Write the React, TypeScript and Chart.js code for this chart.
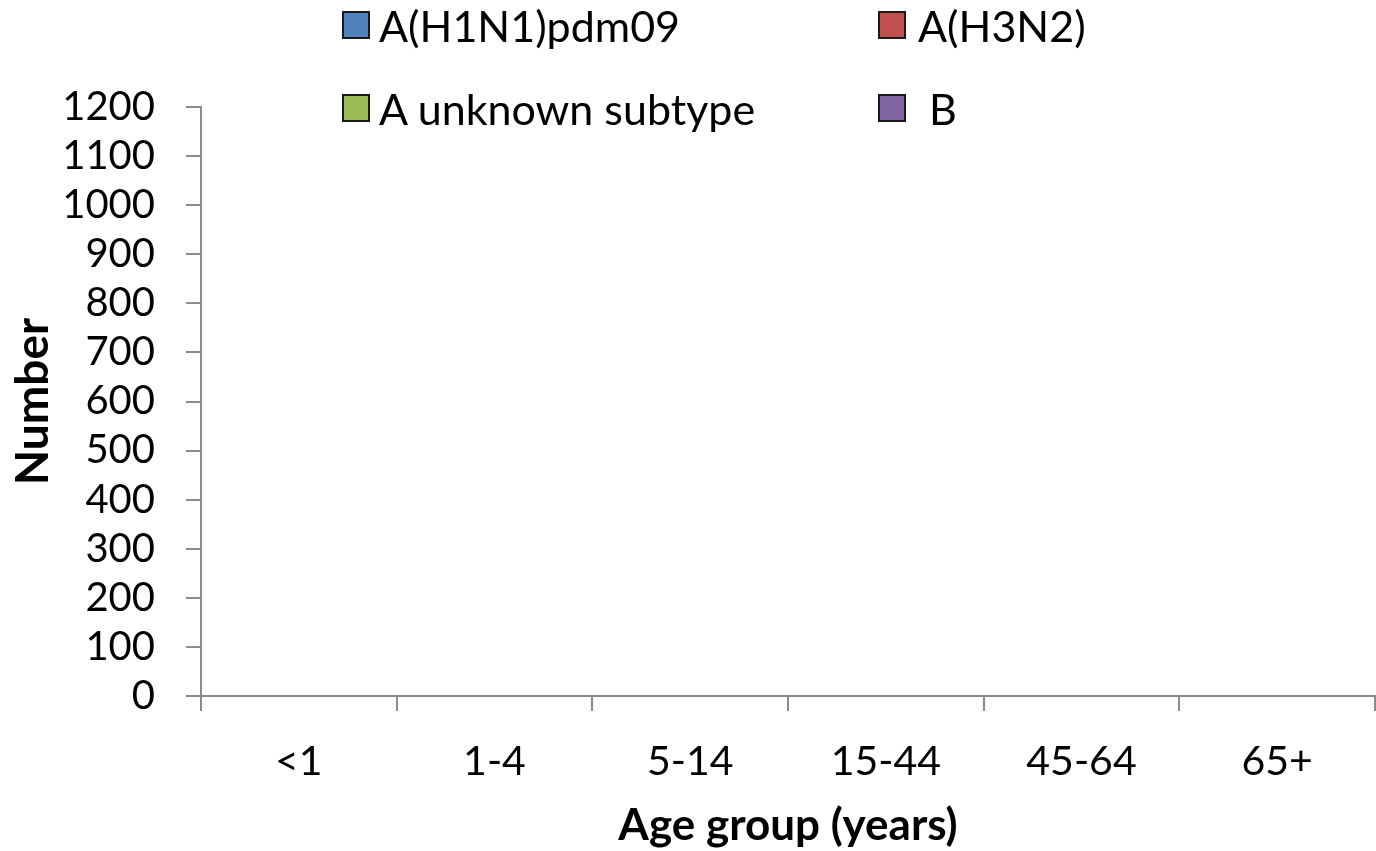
import React, { useEffect, useRef } from "react";
import { Chart, registerables } from "chart.js";

Chart.register(...registerables);

const categories = ["<1", "1-4", "5-14", "15-44", "45-64", "65+"];
const seriesNames = ["A(H1N1)pdm09", "A(H3N2)", "A unknown subtype", " B"];
const seriesColors = ["#4F81BD", "#C0504D", "#9BBB59", "#8064A2"];
const h1n1Values = [0, 0, 0, 0, 0, 0];
const h3n2Values = [0, 0, 0, 0, 0, 0];
const aUnknownValues = [0, 0, 0, 0, 0, 0];
const bValues = [0, 0, 0, 0, 0, 0];
const yTickLabels = ["0", "100", "200", "300", "400", "500", "600", "700", "800", "900", "1000", "1100", "1200"];

const FONT = "Lato, 'Open Sans', sans-serif";
const AXIS_GRAY = "#8c8c8c";

// legend positions (2 x 2 grid)
const legendLayout = [
  { left: 342, top: 0, textGap: 9 },
  { left: 878, top: 0, textGap: 12 },
  { left: 342, top: 83, textGap: 9 },
  { left: 878, top: 83, textGap: 12 },
];

export default function App() {
  const canvasRef = useRef<HTMLCanvasElement | null>(null);

  useEffect(() => {
    if (!canvasRef.current) return;
    const allValues = [h1n1Values, h3n2Values, aUnknownValues, bValues];
    const chart = new Chart(canvasRef.current, {
      type: "bar",
      data: {
        labels: categories,
        datasets: seriesNames.map((name, i) => ({
          label: name,
          data: allValues[i],
          backgroundColor: seriesColors[i],
          borderWidth: 0,
        })),
      },
      options: {
        animation: false,
        responsive: true,
        maintainAspectRatio: false,
        layout: { padding: { top: 107, right: 1, left: 0, bottom: 0 } },
        plugins: {
          legend: { display: false },
          tooltip: { enabled: false },
        },
        scales: {
          x: {
            offset: true,
            grid: {
              display: true,
              offset: true,
              drawOnChartArea: false,
              drawTicks: true,
              tickLength: 15,
              color: AXIS_GRAY,
              lineWidth: 2,
            },
            border: { display: true, color: AXIS_GRAY, width: 2 },
            ticks: {
              color: "#000",
              font: { family: FONT, size: 41 },
              padding: 26,
              maxRotation: 0,
              autoSkip: false,
            },
            title: {
              display: true,
              text: "Age group (years)",
              color: "#000",
              font: { family: FONT, size: 44, weight: "bold", lineHeight: 1.1 },
              padding: { top: 0, bottom: 1 },
            },
            afterFit: (scale: any) => {
              scale.height = 851 - 696;
            },
          },
          y: {
            min: 0,
            max: 1200,
            grid: {
              display: true,
              drawOnChartArea: false,
              drawTicks: true,
              tickLength: 15,
              color: AXIS_GRAY,
              lineWidth: 2,
            },
            border: { display: true, color: AXIS_GRAY, width: 2 },
            ticks: {
              stepSize: 100,
              autoSkip: false,
              color: "#000",
              font: { family: FONT, size: 40 },
              padding: 31,
              callback: (_v: any, i: number) => yTickLabels[i],
            },
            title: {
              display: true,
              text: "Number",
              color: "#000",
              font: { family: FONT, size: 46, weight: "bold", lineHeight: 1.1 },
              padding: { top: 8, bottom: 0 },
            },
            afterFit: (scale: any) => {
              scale.width = 201;
            },
          },
        },
      },
    });
    return () => chart.destroy();
  }, []);

  return (
    <div style={{ position: "fixed", left: 0, top: 0, width: 1376, height: 851, background: "#fff" }}>
      <canvas ref={canvasRef} />
      {seriesNames.map((name, i) => (
        <div
          key={name}
          style={{
            position: "absolute",
            left: legendLayout[i].left,
            top: legendLayout[i].top,
            height: 50,
            display: "flex",
            alignItems: "center",
            fontFamily: FONT,
            fontSize: 43,
            color: "#000",
            whiteSpace: "pre",
          }}
        >
          <span
            style={{
              display: "inline-block",
              boxSizing: "border-box",
              flex: "0 0 auto",
              width: 28,
              height: 28,
              background: seriesColors[i],
              border: "2px solid #1a1a1a",
              marginRight: legendLayout[i].textGap,
            }}
          />
          <span>{name}</span>
        </div>
      ))}
    </div>
  );
}
